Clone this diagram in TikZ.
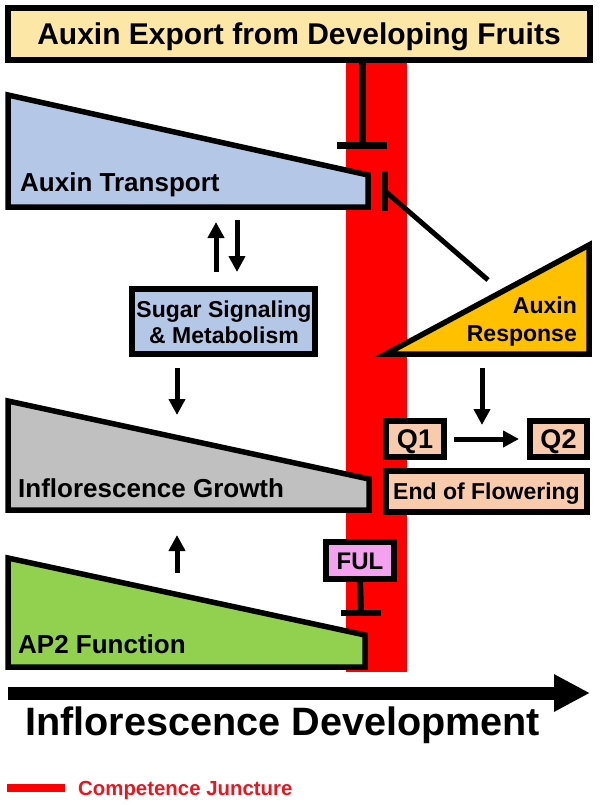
\documentclass[tikz,border=0pt]{standalone}
\usepackage{fontspec}
\setmainfont{Liberation Sans}
\usetikzlibrary{arrows.meta}
\definecolor{bannerY}{RGB}{253,231,166}
\definecolor{lblue}{RGB}{180,199,231}
\definecolor{lgray}{RGB}{192,192,192}
\definecolor{lgreen}{RGB}{146,208,80}
\definecolor{goldY}{RGB}{255,192,0}
\definecolor{peach}{RGB}{248,203,173}
\definecolor{pinkF}{RGB}{244,162,240}
\definecolor{cjred}{RGB}{255,0,0}
\definecolor{cjtext}{RGB}{232,22,30}
\newcommand{\fsz}[1]{\fontsize{#1pt}{#1pt}\selectfont}
\begin{document}
\begin{tikzpicture}[x=1pt,y=-1pt,
  outl/.style={draw=black, line width=5.5pt, line join=miter},
  boxnode/.style={draw=black, line width=5.5pt, inner sep=0pt, outer sep=0pt},
  lbl/.style={inner sep=0pt, anchor=base west, font=\bfseries\fsz{26}},
  lblm/.style={inner sep=0pt, font=\bfseries\fsz{23}},
  arr/.style={line width=5pt, -{Triangle[length=16pt,width=16pt]}},
  inh/.style={line width=7pt},
]
\useasboundingbox (0,0) rectangle (600,805);
\fill[white] (0,0) rectangle (600,805);

% competence juncture bar
\fill[cjred] (346,40) rectangle (407,672);

% banner
\node[boxnode, line width=6pt, fill=bannerY, minimum width=582pt, minimum height=52pt,
      font=\bfseries\fsz{30}, text height=21.5pt, text depth=0pt]
      (banner) at (299,34) {Auxin Export from Developing Fruits};

% Auxin transport
\path[outl, fill=lblue] (8,95) -- (368,175) -- (368,207) -- (8,207) -- cycle;
\node[lbl] (atl) at (20,192) {Auxin Transport};

% Inflorescence growth
\path[outl, fill=lgray] (8,401) -- (369,479) -- (369,510) -- (8,510) -- cycle;
\node[lbl] (igl) at (18,497) {Inflorescence Growth};

% AP2 function
\path[outl, fill=lgreen] (8,558) -- (365,635) -- (365,667) -- (8,667) -- cycle;
\node[lbl] (ap2l) at (18,653) {AP2 Function};

% Auxin response
\path[outl, fill=goldY] (386,354) -- (589,245) -- (589,354) -- cycle;
\node[lblm, anchor=base east] (arl1) at (577,313) {Auxin};
\node[lblm, anchor=base east] (arl2) at (577,341) {Response};

% Sugar box
\node[boxnode, fill=lblue, minimum width=183pt, minimum height=65pt] (sugar) at (223.5,321.5) {};
\node[lblm, anchor=base] (sug1) at (224,317) {Sugar Signaling};
\node[lblm, anchor=base] (sug2) at (224,343) {\& Metabolism};

% Q boxes
\node[boxnode, fill=peach, minimum width=58pt, minimum height=36pt,
      font=\bfseries\fsz{27}, text height=19.3pt, text depth=0pt] (q1) at (415,439) {Q1};
\node[boxnode, fill=peach, minimum width=57pt, minimum height=36pt,
      font=\bfseries\fsz{27}, text height=19.3pt, text depth=0pt] (q2) at (558.5,439) {Q2};
\node[boxnode, fill=peach, minimum width=201pt, minimum height=41pt,
      font=\bfseries\fsz{23}, text height=16.5pt, text depth=0pt] (eof) at (486.5,491.5) {End of Flowering};

% FUL
\node[boxnode, fill=pinkF, minimum width=68pt, minimum height=37pt,
      font=\bfseries\fsz{24}, text height=17.2pt, text depth=0pt] (ful) at (360,560.5) {FUL};

% coordinates
\coordinate (t1) at (362,146);
\coordinate (t2) at (385,191);
\coordinate (t2e) at (488,280);
\coordinate (t3) at (361,613);
\coordinate (upA0) at (216,272); \coordinate (upA1) at (216,222);
\coordinate (dnA0) at (237,220); \coordinate (dnA1) at (237,272);
\coordinate (dnB0) at (177,368); \coordinate (dnB1) at (177,415);
\coordinate (upC0) at (177,573); \coordinate (upC1) at (177,535);
\coordinate (dnR0) at (482,368); \coordinate (dnR1) at (482,425);
\coordinate (devS) at (8,693); \coordinate (devE) at (590,693);
\coordinate (cjS) at (7,788); \coordinate (cjE) at (65,788);

% inhibitions
\draw[inh] (banner.south -| t1) -- (t1);
\draw[inh] ([xshift=-25pt]t1) -- ([xshift=25pt]t1);
\draw[line width=6pt] ([yshift=-20pt]t2) -- ([yshift=20pt]t2);
\draw[line width=5pt] (t2) -- (t2e);
\draw[line width=6pt] (ful.south) -- (t3);
\draw[line width=6pt] ([xshift=-20pt]t3) -- ([xshift=20pt]t3);

% arrows
\draw[arr] (upA0) -- (upA1);
\draw[arr] (dnA0) -- (dnA1);
\draw[arr] (dnB0) -- (dnB1);
\draw[arr] (upC0) -- (upC1);
\draw[arr] (dnR0) -- (dnR1);
\draw[arr, shorten <=10pt, shorten >=11pt] (q1.east) -- (q2.west);

% development axis
\draw[line width=13pt, -{Triangle[length=36pt,width=35pt]}] (devS) -- (devE);
\node[inner sep=0pt, anchor=base west, font=\bfseries\fsz{39.6}] (devl) at (25,735) {Inflorescence Development};

% legend
\draw[cjred, line width=8pt] (cjS) -- (cjE);
\node[inner sep=0pt, anchor=base west, font=\bfseries\fsz{20.4}, text=cjtext] (cjl) at (78,795) {Competence Juncture};
\end{tikzpicture}
\end{document}
